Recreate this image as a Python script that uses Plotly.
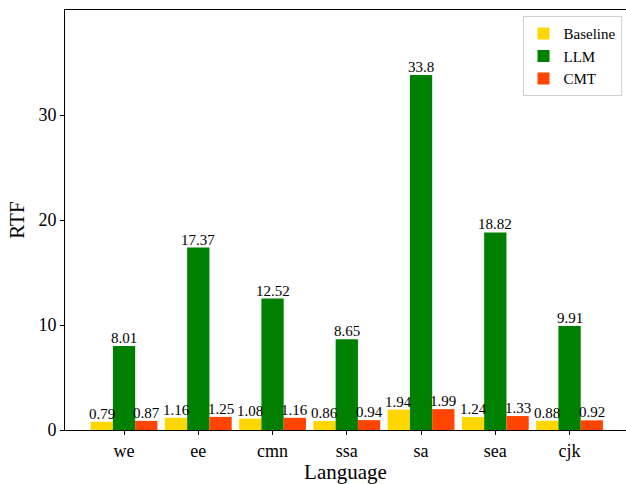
import plotly.graph_objects as go

languages = ["we", "ee", "cmn", "ssa", "sa", "sea", "cjk"]
baseline = [0.79, 1.16, 1.08, 0.86, 1.94, 1.24, 0.88]
llm = [8.01, 17.37, 12.52, 8.65, 33.8, 18.82, 9.91]
cmt = [0.87, 1.25, 1.16, 0.94, 1.99, 1.33, 0.92]
y_ticks = [0, 10, 20, 30]

series = [("Baseline", baseline, "#FFD700"), ("LLM", llm, "#008000"), ("CMT", cmt, "#FF4500")]
x_idx = list(range(len(languages)))
bar_w = 0.3

fig = go.Figure()
for k, (name, vals, color) in enumerate(series):
    fig.add_trace(go.Bar(
        x=x_idx, y=vals, name=name, marker=dict(color=color, line=dict(width=0)),
        width=bar_w,
    ))
    for i, v in zip(x_idx, vals):
        fig.add_annotation(
            x=i + (k - 1) * bar_w, y=v, text=str(v), showarrow=False,
            xanchor="center", yanchor="bottom", yshift=-2,
            font=dict(family="Liberation Serif", size=15, color="black"),
        )

fig.update_layout(
    width=626, height=484,
    margin=dict(l=65, r=0, t=10, b=54),
    paper_bgcolor="white", plot_bgcolor="white",
    barmode="group", bargap=0.1, bargroupgap=0,
    font=dict(family="Liberation Serif", color="black"),
    legend=dict(x=0.992, y=0.985, xanchor="right", yanchor="top",
                bgcolor="white", bordercolor="#d0d0d0", borderwidth=1,
                font=dict(family="Liberation Serif", size=15),
                itemwidth=30, tracegroupgap=1),
    showlegend=True,
)
fig.update_xaxes(
    range=[-0.795, 6.76], tickmode="array", tickvals=x_idx, ticktext=languages,
    showgrid=False, zeroline=False, showline=True, linecolor="black", linewidth=1,
    mirror=True, ticks="outside", ticklen=4, tickcolor="black",
    tickfont=dict(size=18), title=dict(text="Language", font=dict(size=21), standoff=4),
)
fig.update_yaxes(
    range=[0, 40], tickmode="array", tickvals=y_ticks,
    showgrid=False, zeroline=False, showline=True, linecolor="black", linewidth=1,
    ticks="outside", ticklen=4, tickcolor="black",
    tickfont=dict(size=18), title=dict(text="RTF", font=dict(size=21), standoff=8),
)

fig.write_html("out.html")
